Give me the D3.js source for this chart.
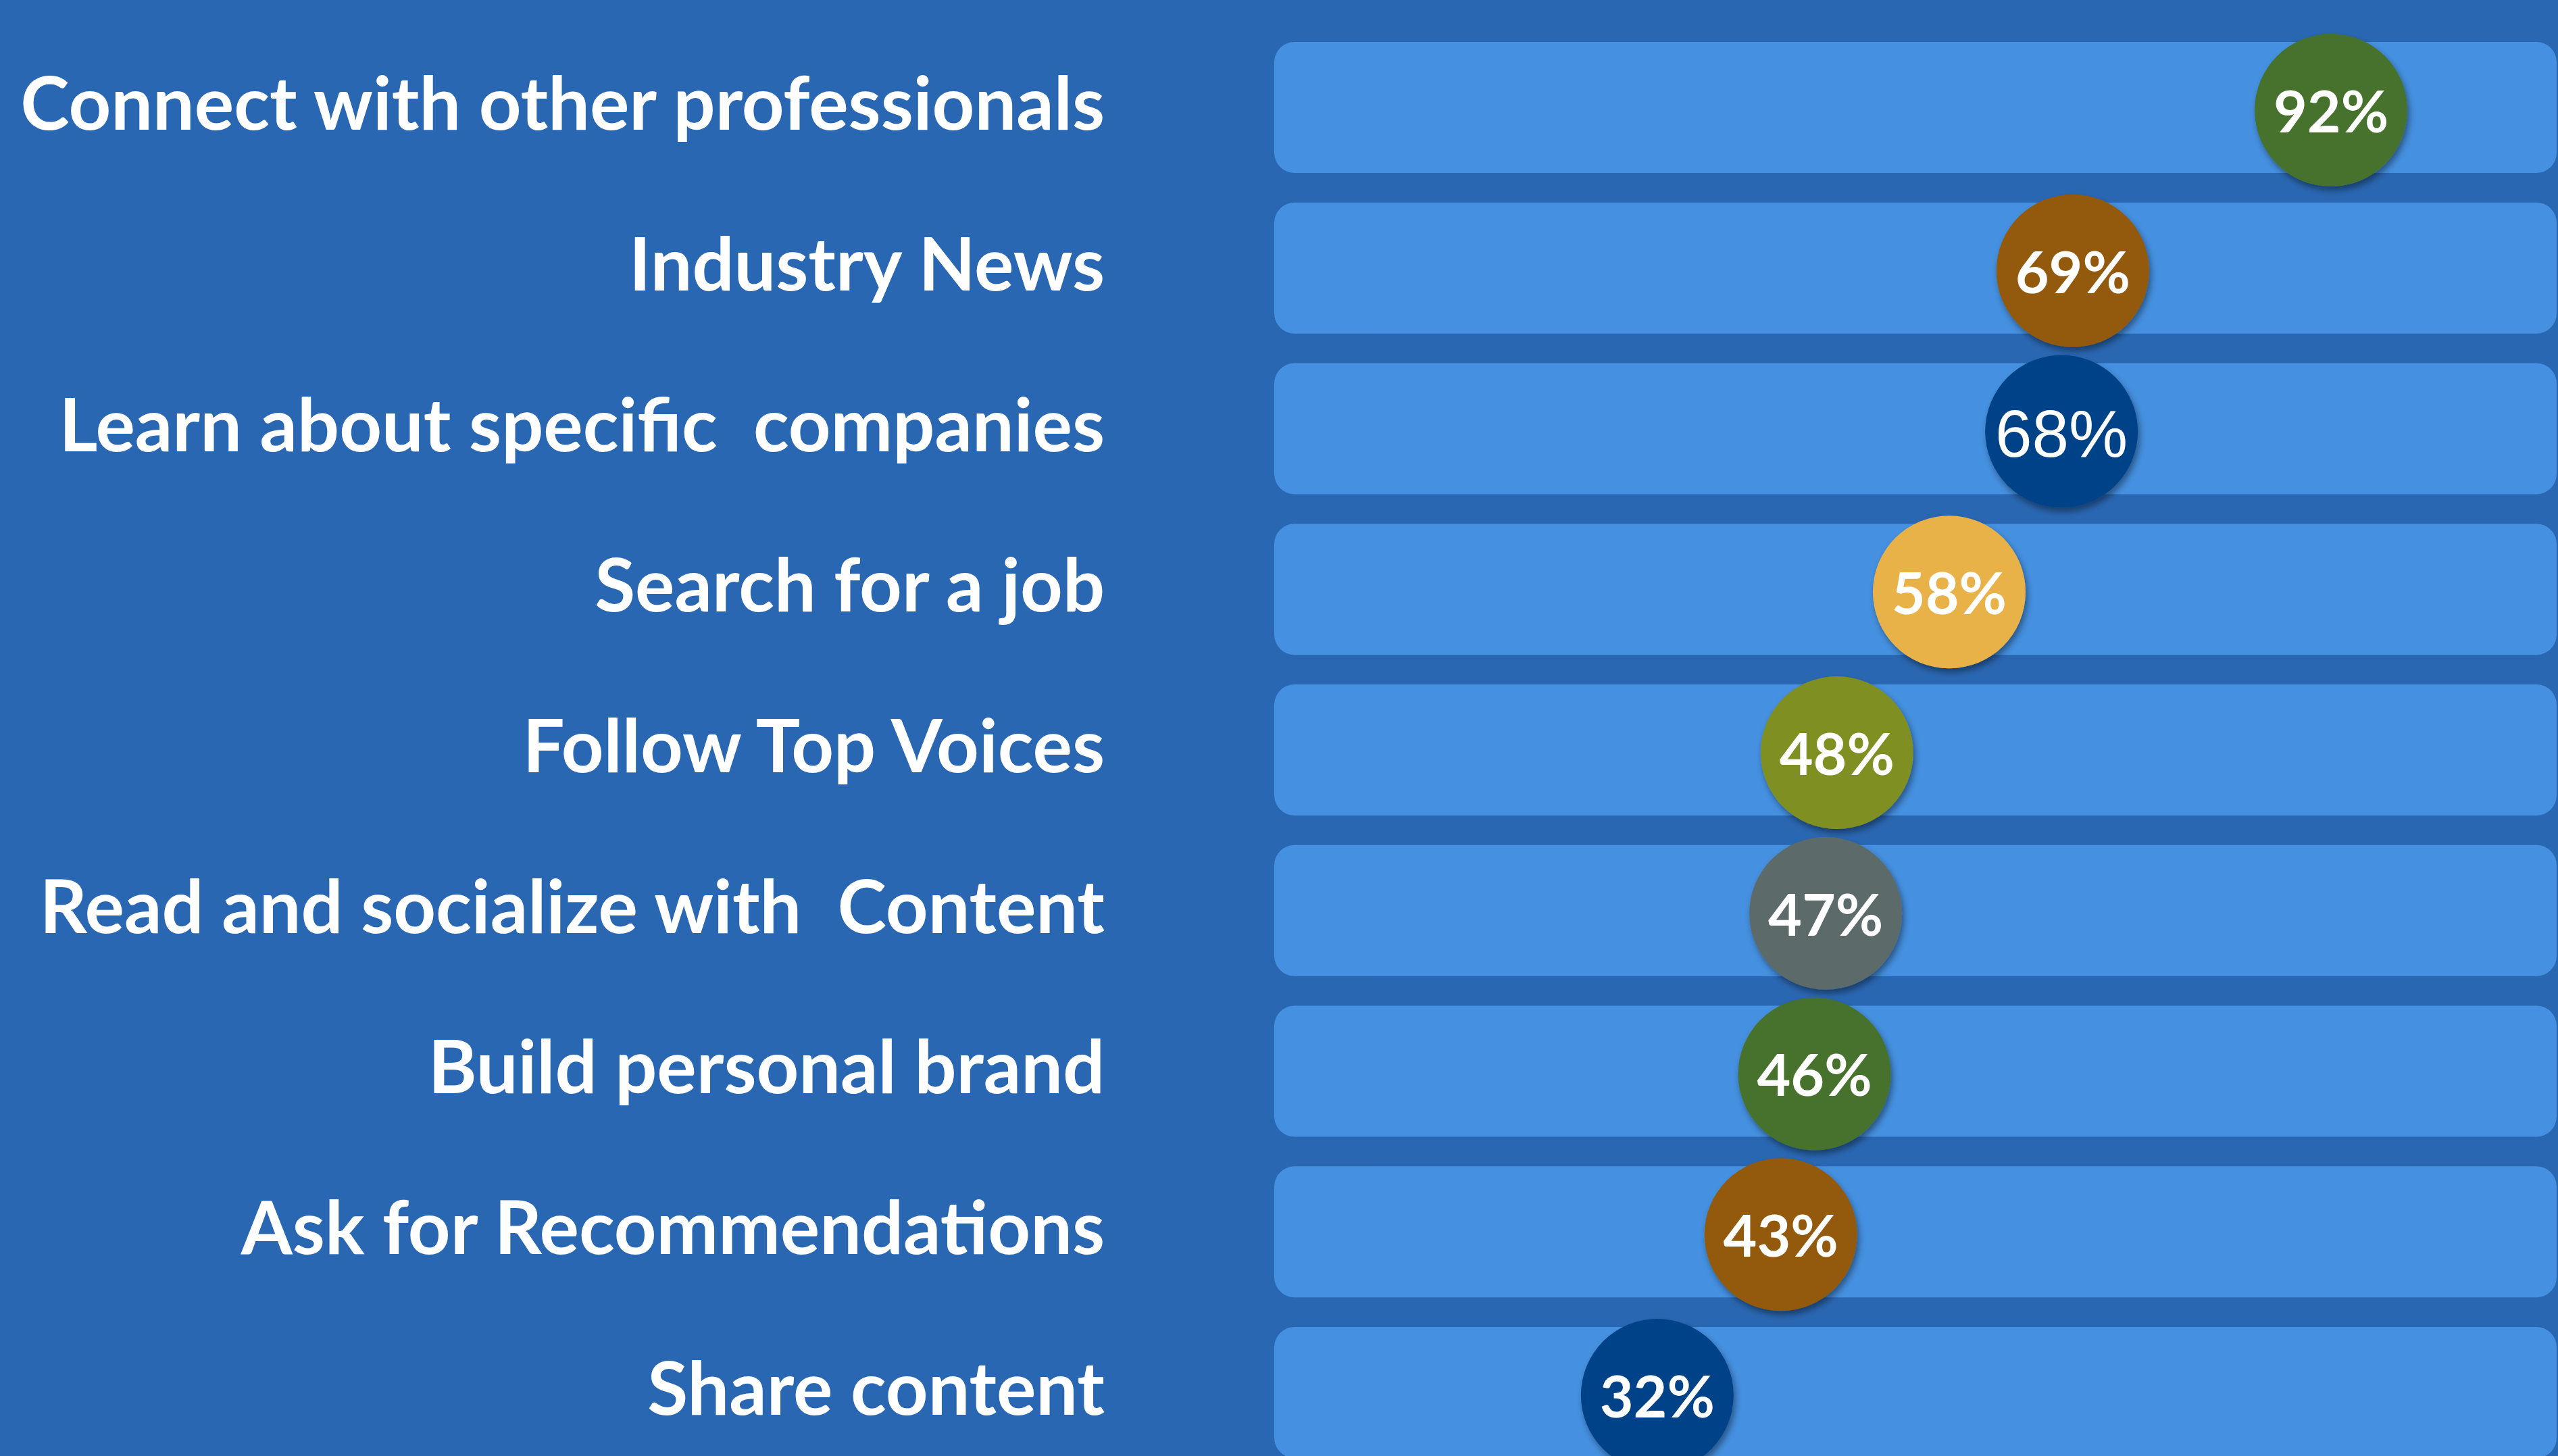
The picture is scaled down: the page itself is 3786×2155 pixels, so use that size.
<!DOCTYPE html>
<html>
<head>
<meta charset="utf-8">
<script src="https://cdn.jsdelivr.net/npm/d3@7"></script>
<style>
  html, body { margin: 0; padding: 0; background: #2A67B2; }
  svg { display: block; }
  text { white-space: pre; }
</style>
</head>
<body>
<script>
// ---- data ----
const categories = [
  "Connect with other professionals",
  "Industry News",
  "Learn about specific  companies",
  "Search for a job",
  "Follow Top Voices",
  "Read and socialize with  Content",
  "Build personal brand",
  "Ask for Recommendations",
  "Share content"
];
const values = [92, 69, 68, 58, 48, 47, 46, 43, 32];

// ---- styles ----
const circleColors = ["#46722F", "#935A07", "#034387", "#E9B248", "#7F8F20", "#5C6B6B", "#46722F", "#935A07", "#034387"];
const valueWeights = ["bold", "bold", "normal", "bold", "bold", "bold", "bold", "bold", "bold"];

const W = 3786, H = 2155;
const bgColor = "#2A67B2", trackColor = "#4590E0";
const labelRight = 1635, trackLeft = 1886, trackRight = 3784;

const svg = d3.select("body").append("svg").attr("width", W).attr("height", H);
svg.append("rect").attr("width", W).attr("height", H).attr("fill", bgColor);

const defs = svg.append("defs");
const f = defs.append("filter").attr("id", "shadow").attr("x", "-30%").attr("y", "-30%").attr("width", "160%").attr("height", "160%");
f.append("feDropShadow").attr("dx", 3).attr("dy", 6).attr("stdDeviation", 5)
  .attr("flood-color", "#000").attr("flood-opacity", 0.4);

const y = d3.scaleBand().domain(categories).range([62, 2158]).paddingInner(0.184).paddingOuter(0);
const x = d3.scaleLinear().domain([0, 100]).range([1921, 3583]);
const r = 113;

// tracks
svg.append("g").selectAll("rect").data(categories).join("rect")
  .attr("x", trackLeft).attr("y", d => y(d))
  .attr("width", trackRight - trackLeft).attr("height", y.bandwidth())
  .attr("rx", 30).attr("ry", 30)
  .attr("fill", trackColor);

// category labels
const labels = svg.append("g").selectAll("text").data(categories).join("text")
  .attr("x", labelRight).attr("y", d => y(d) + y.bandwidth() / 2 + 33)
  .attr("text-anchor", "end")
  .attr("fill", "#fff")
  .attr("font-family", "Lato, 'Open Sans', sans-serif")
  .attr("font-weight", "bold")
  .attr("font-size", 100)
  .text(d => d);
// fit font size so the longest label spans the reference width
const firstLen = labels.nodes()[0].getComputedTextLength();
const fs = 100 * 1605 / firstLen;
labels.attr("font-size", fs);

// circles
const pts = svg.append("g").selectAll("g").data(values).join("g")
  .attr("transform", (d, i) => `translate(${x(d)},${y(categories[i]) + y.bandwidth() / 2 + 4})`);
pts.append("circle").attr("r", r)
  .attr("fill", (d, i) => circleColors[i])
  .attr("filter", "url(#shadow)");
pts.append("text")
  .attr("text-anchor", "middle")
  .attr("y", (d, i) => valueWeights[i] === "bold" ? 33 : 37)
  .attr("fill", "#fff")
  .attr("font-family", (d, i) => valueWeights[i] === "bold" ? "Lato, 'Open Sans', sans-serif" : "'Liberation Sans', Arial, sans-serif")
  .attr("font-weight", (d, i) => valueWeights[i])
  .attr("font-size", (d, i) => valueWeights[i] === "bold" ? 86 : 98)
  .text(d => d + "%");
</script>
</body>
</html>
